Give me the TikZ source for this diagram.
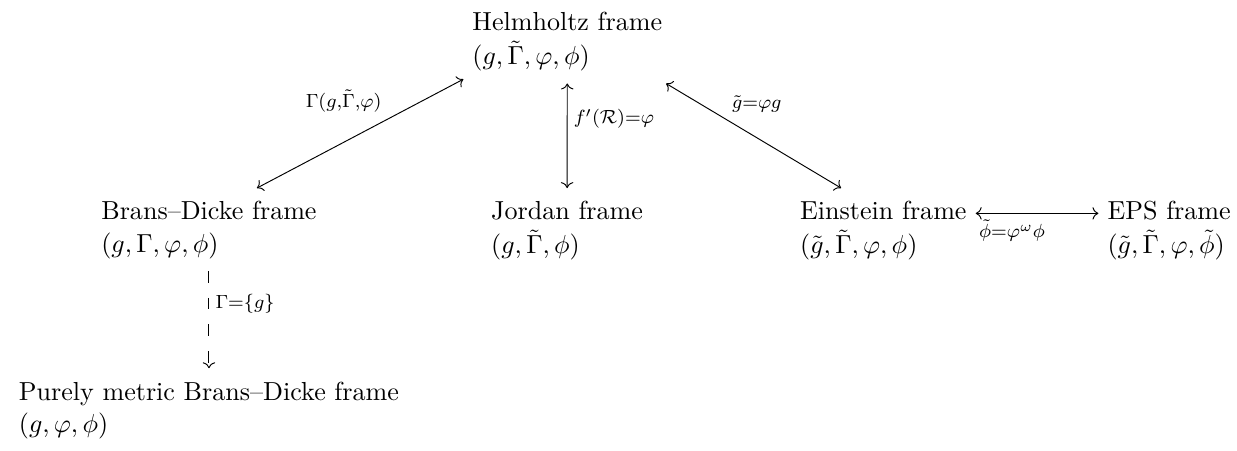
\documentclass[11pt,tikz,border=0pt]{standalone}
\usepackage{amsmath,amssymb}
\usepackage{tikz}
\usetikzlibrary{cd, calc, arrows.meta}

\begin{document}
\begin{tikzpicture}[
    framenode/.style={shape=asymmetrical rectangle, anchor=base, inner sep=0.333em},
    lbl/.style={inner sep=2.6pt},
    >={Computer Modern Rightarrow}
]
\useasboundingbox (0,0) rectangle (519.8pt,-189.5pt);

% Frames
\node[framenode] (helm) at (238.4pt,-13.0pt)
    {\begin{tabular}[t]{@{}l@{}}Helmholtz frame\\ $(g,\tilde{\Gamma},\varphi,\phi)$\end{tabular}};
\node[framenode] (bd) at (87.8pt,-92.4pt)
    {\begin{tabular}[t]{@{}l@{}}Brans--Dicke frame\\ $(g,\Gamma,\varphi,\phi)$\end{tabular}};
\node[framenode] (jordan) at (238.3pt,-92.4pt)
    {\begin{tabular}[t]{@{}l@{}}Jordan frame\\ $(g,\tilde{\Gamma},\phi)$\end{tabular}};
\node[framenode] (einstein) at (371.2pt,-92.4pt)
    {\begin{tabular}[t]{@{}l@{}}Einstein frame\\ $(\tilde{g},\tilde{\Gamma},\varphi,\phi)$\end{tabular}};
\node[framenode] (eps) at (491.3pt,-92.4pt)
    {\begin{tabular}[t]{@{}l@{}}EPS frame\\ $(\tilde{g},\tilde{\Gamma},\varphi,\tilde{\phi})$\end{tabular}};
\node[framenode] (pm) at (87.8pt,-168.1pt)
    {\begin{tabular}[t]{@{}l@{}}Purely metric Brans--Dicke frame\\ $(g,\varphi,\phi)$\end{tabular}};

% Transformations
\draw[<->] (bd) -- (helm);
\draw[<->] (helm) -- (jordan);
\draw[<->] (helm) -- (einstein);
\draw[<->] (einstein) -- (eps);
\draw[->, dash pattern=on 4.9pt off 6.3pt] (bd) -- (pm);

% Labels
\node[lbl, above left] (lgam) at ($(helm)!0.5!(bd)$) {$\scriptstyle\Gamma(g,\tilde{\Gamma},\varphi)$};
\node[lbl, right] (lfr) at ($(helm)!0.5!(jordan)$) {$\scriptstyle f'(\mathcal{R})=\varphi$};
\node[lbl, above right] (lgt) at ($(helm)!0.5!(einstein)$) {$\scriptstyle\tilde{g}=\varphi g$};
\node[lbl, below] (lphi) at ($(einstein)!0.45!(eps)$) {$\scriptstyle\tilde{\phi}=\varphi^{\omega}\phi$};
\node[lbl, right] (lmet) at ($(bd)!0.5!(pm)$) {$\scriptstyle\Gamma=\{g\}$};

\end{tikzpicture}
\end{document}
